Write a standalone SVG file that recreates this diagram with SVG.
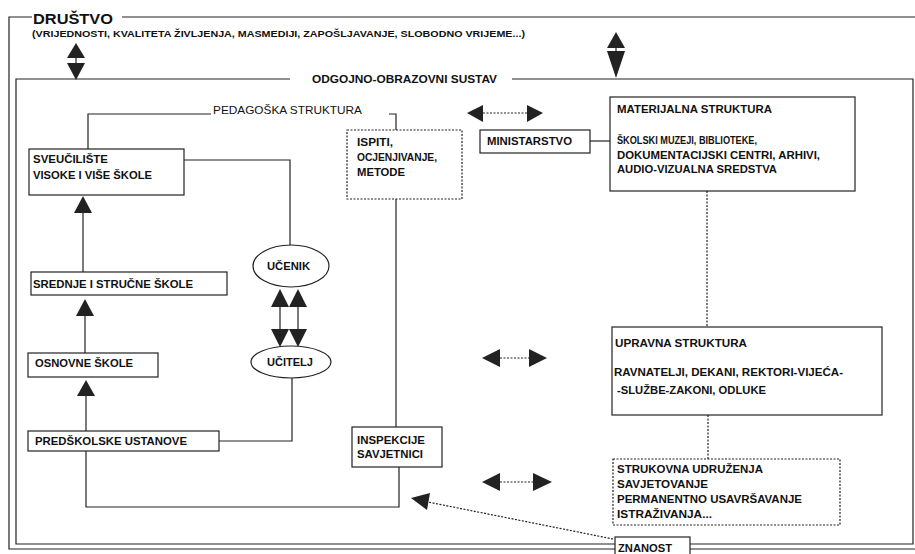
<svg xmlns="http://www.w3.org/2000/svg" width="915" height="554" viewBox="0 0 915 554">
<style>
.t{font-family:"Liberation Sans",Arial,sans-serif;font-weight:bold;font-size:10.5px;fill:#111}
.h{font-size:11px}
.box{fill:#fff;stroke:#222;stroke-width:1.2}
.dbox{fill:#fff;stroke:#222;stroke-width:1.2;stroke-dasharray:2 1.5}
.ln{fill:none;stroke:#222;stroke-width:1.2}
.dot{fill:none;stroke:#222;stroke-width:1.2;stroke-dasharray:2 1.5}
.ah{fill:#222}
</style>
<rect width="915" height="554" fill="#fff"/>

<g id="frames">
  <path class="ln" d="M32,17 H9 V549 H615 M690,549 H915"/>
  <path class="ln" d="M122,17 H915"/>
  <path class="ln" d="M290,79 H16 V544 H615 M690,544 H913 V79 H512"/>
</g>

<g id="drustvo">
  <text class="t" x="33" y="24" style="font-size:15px" textLength="80" lengthAdjust="spacingAndGlyphs">DRUŠTVO</text>
  <text class="t" x="32" y="37" style="font-size:9.5px" textLength="493" lengthAdjust="spacingAndGlyphs">(VRIJEDNOSTI, KVALITETA ŽIVLJENJA, MASMEDIJI, ZAPOŠLJAVANJE, SLOBODNO VRIJEME...)</text>
</g>
<g id="sustav">
  <text class="t h" x="312" y="83" textLength="185" lengthAdjust="spacingAndGlyphs">ODGOJNO-OBRAZOVNI SUSTAV</text>
</g>
<g id="pedagoska">
  <text class="t" x="213" y="114" style="font-weight:normal;font-size:11px" textLength="149" lengthAdjust="spacingAndGlyphs">PEDAGOŠKA STRUKTURA</text>
</g>

<g id="sveuciliste">
  <rect class="box" x="29" y="149" width="155" height="46"/>
  <text class="t" x="33" y="163" textLength="75" lengthAdjust="spacingAndGlyphs">SVEUČILIŠTE</text>
  <text class="t" x="33" y="179" textLength="119" lengthAdjust="spacingAndGlyphs">VISOKE I VIŠE ŠKOLE</text>
</g>
<g id="srednje">
  <rect class="box" x="31" y="272" width="196" height="23"/>
  <text class="t" x="33" y="288" textLength="160" lengthAdjust="spacingAndGlyphs">SREDNJE I STRUČNE ŠKOLE</text>
</g>
<g id="osnovne">
  <rect class="box" x="28" y="353" width="130" height="24"/>
  <text class="t" x="35" y="367" textLength="98" lengthAdjust="spacingAndGlyphs">OSNOVNE ŠKOLE</text>
</g>
<g id="predskolske">
  <rect class="box" x="28" y="431" width="191" height="20"/>
  <text class="t" x="35" y="445" textLength="152" lengthAdjust="spacingAndGlyphs">PREDŠKOLSKE USTANOVE</text>
</g>
<g id="ucenik">
  <ellipse class="box" cx="291" cy="266" rx="38" ry="21"/>
  <text class="t" x="267" y="270" textLength="43" lengthAdjust="spacingAndGlyphs">UČENIK</text>
</g>
<g id="ucitelj">
  <ellipse class="box" cx="291" cy="362" rx="40" ry="16"/>
  <text class="t" x="267" y="366" textLength="46" lengthAdjust="spacingAndGlyphs">UČITELJ</text>
</g>
<g id="ispiti">
  <rect class="dbox" x="347" y="130" width="115" height="69"/>
  <text class="t" x="357" y="146" textLength="36" lengthAdjust="spacingAndGlyphs">ISPITI,</text>
  <text class="t" x="357" y="161" textLength="80" lengthAdjust="spacingAndGlyphs">OCJENJIVANJE,</text>
  <text class="t" x="357" y="176" textLength="48" lengthAdjust="spacingAndGlyphs">METODE</text>
</g>
<g id="inspekcije">
  <rect class="box" x="352" y="427" width="90" height="40"/>
  <text class="t" x="357" y="444" textLength="68" lengthAdjust="spacingAndGlyphs">INSPEKCIJE</text>
  <text class="t" x="357" y="458" textLength="66" lengthAdjust="spacingAndGlyphs">SAVJETNICI</text>
</g>
<g id="ministarstvo">
  <rect class="box" x="480" y="130" width="110" height="23"/>
  <text class="t" x="487" y="145" textLength="85" lengthAdjust="spacingAndGlyphs">MINISTARSTVO</text>
</g>
<g id="materijalna">
  <rect class="box" x="610" y="97" width="245" height="94"/>
  <text class="t h" x="617" y="113" textLength="155" lengthAdjust="spacingAndGlyphs">MATERIJALNA STRUKTURA</text>
  <text class="t" x="617" y="144" textLength="140" lengthAdjust="spacingAndGlyphs">ŠKOLSKI MUZEJI, BIBLIOTEKE,</text>
  <text class="t" x="617" y="159" textLength="203" lengthAdjust="spacingAndGlyphs">DOKUMENTACIJSKI CENTRI, ARHIVI,</text>
  <text class="t" x="617" y="173" textLength="160" lengthAdjust="spacingAndGlyphs">AUDIO-VIZUALNA SREDSTVA</text>
</g>
<g id="upravna">
  <rect class="box" x="612" y="327" width="270" height="88"/>
  <text class="t h" x="615" y="347" textLength="132" lengthAdjust="spacingAndGlyphs">UPRAVNA STRUKTURA</text>
  <text class="t" x="614" y="376" textLength="229" lengthAdjust="spacingAndGlyphs">RAVNATELJI, DEKANI, REKTORI-VIJEĆA-</text>
  <text class="t" x="617" y="394" textLength="149" lengthAdjust="spacingAndGlyphs">-SLUŽBE-ZAKONI, ODLUKE</text>
</g>
<g id="strukovna">
  <rect class="dbox" x="613" y="459" width="227" height="66"/>
  <text class="t" x="617" y="473" textLength="146" lengthAdjust="spacingAndGlyphs">STRUKOVNA UDRUŽENJA</text>
  <text class="t" x="617" y="488" textLength="91" lengthAdjust="spacingAndGlyphs">SAVJETOVANJE</text>
  <text class="t" x="617" y="503" textLength="185" lengthAdjust="spacingAndGlyphs">PERMANENTNO USAVRŠAVANJE</text>
  <text class="t" x="617" y="518" textLength="95" lengthAdjust="spacingAndGlyphs">ISTRAŽIVANJA...</text>
</g>
<g id="znanost">
  <rect class="box" x="615" y="537" width="75" height="22"/>
  <text class="t" x="618" y="552" textLength="54" lengthAdjust="spacingAndGlyphs">ZNANOST</text>
</g>

<g id="connectors">
  <path class="ln" d="M76,58 V63"/>
  <polygon class="ah" points="67,58 85,58 76,43"/>
  <polygon class="ah" points="67,63 85,63 76,80"/>
  <path class="ln" d="M616,48 V51"/>
  <polygon class="ah" points="607,48 625,48 616,32"/>
  <polygon class="ah" points="607,51 625,51 616,78"/>
  <path class="ln" d="M88,149 V114 H211"/>
  <path class="ln" d="M389,114 H396 V130"/>
  <path class="ln" d="M83,272 V212"/>
  <polygon class="ah" points="74,213 92,213 83,196"/>
  <path class="ln" d="M85,353 V315"/>
  <polygon class="ah" points="76,316 94,316 85,299"/>
  <path class="ln" d="M86,431 V395"/>
  <polygon class="ah" points="77,396 95,396 86,380"/>
  <path class="ln" d="M184,160 H290 V245"/>
  <path class="ln" d="M219,441 H292 V378"/>
  <path class="ln" d="M280,307 V329 M298,307 V329"/>
  <polygon class="ah" points="271,307 289,307 280,289"/>
  <polygon class="ah" points="271,329 289,329 280,347"/>
  <polygon class="ah" points="289,307 307,307 298,289"/>
  <polygon class="ah" points="289,329 307,329 298,347"/>
  <path class="ln" d="M396,199 V427"/>
  <path class="ln" d="M399,467 V507 H86 V451"/>
  <path class="ln" d="M590,141 H610"/>
  <path class="dot" d="M707,191 V327"/>
  <path class="dot" d="M708,415 V459"/>
  <path class="dot" d="M483,113 H527"/>
  <polygon class="ah" points="483,105 483,122 467,113"/>
  <polygon class="ah" points="527,105 527,122 543,113"/>
  <path class="dot" d="M500,358 H529"/>
  <polygon class="ah" points="500,349 500,367 482,358"/>
  <polygon class="ah" points="529,349 529,367 547,358"/>
  <path class="dot" d="M500,482 H533"/>
  <polygon class="ah" points="500,473 500,491 482,482"/>
  <polygon class="ah" points="533,473 533,491 552,482"/>
  <path class="dot" d="M613,539 L428,502"/>
  <polygon class="ah" points="430,493 427,510 411,498"/>
</g>
</svg>
